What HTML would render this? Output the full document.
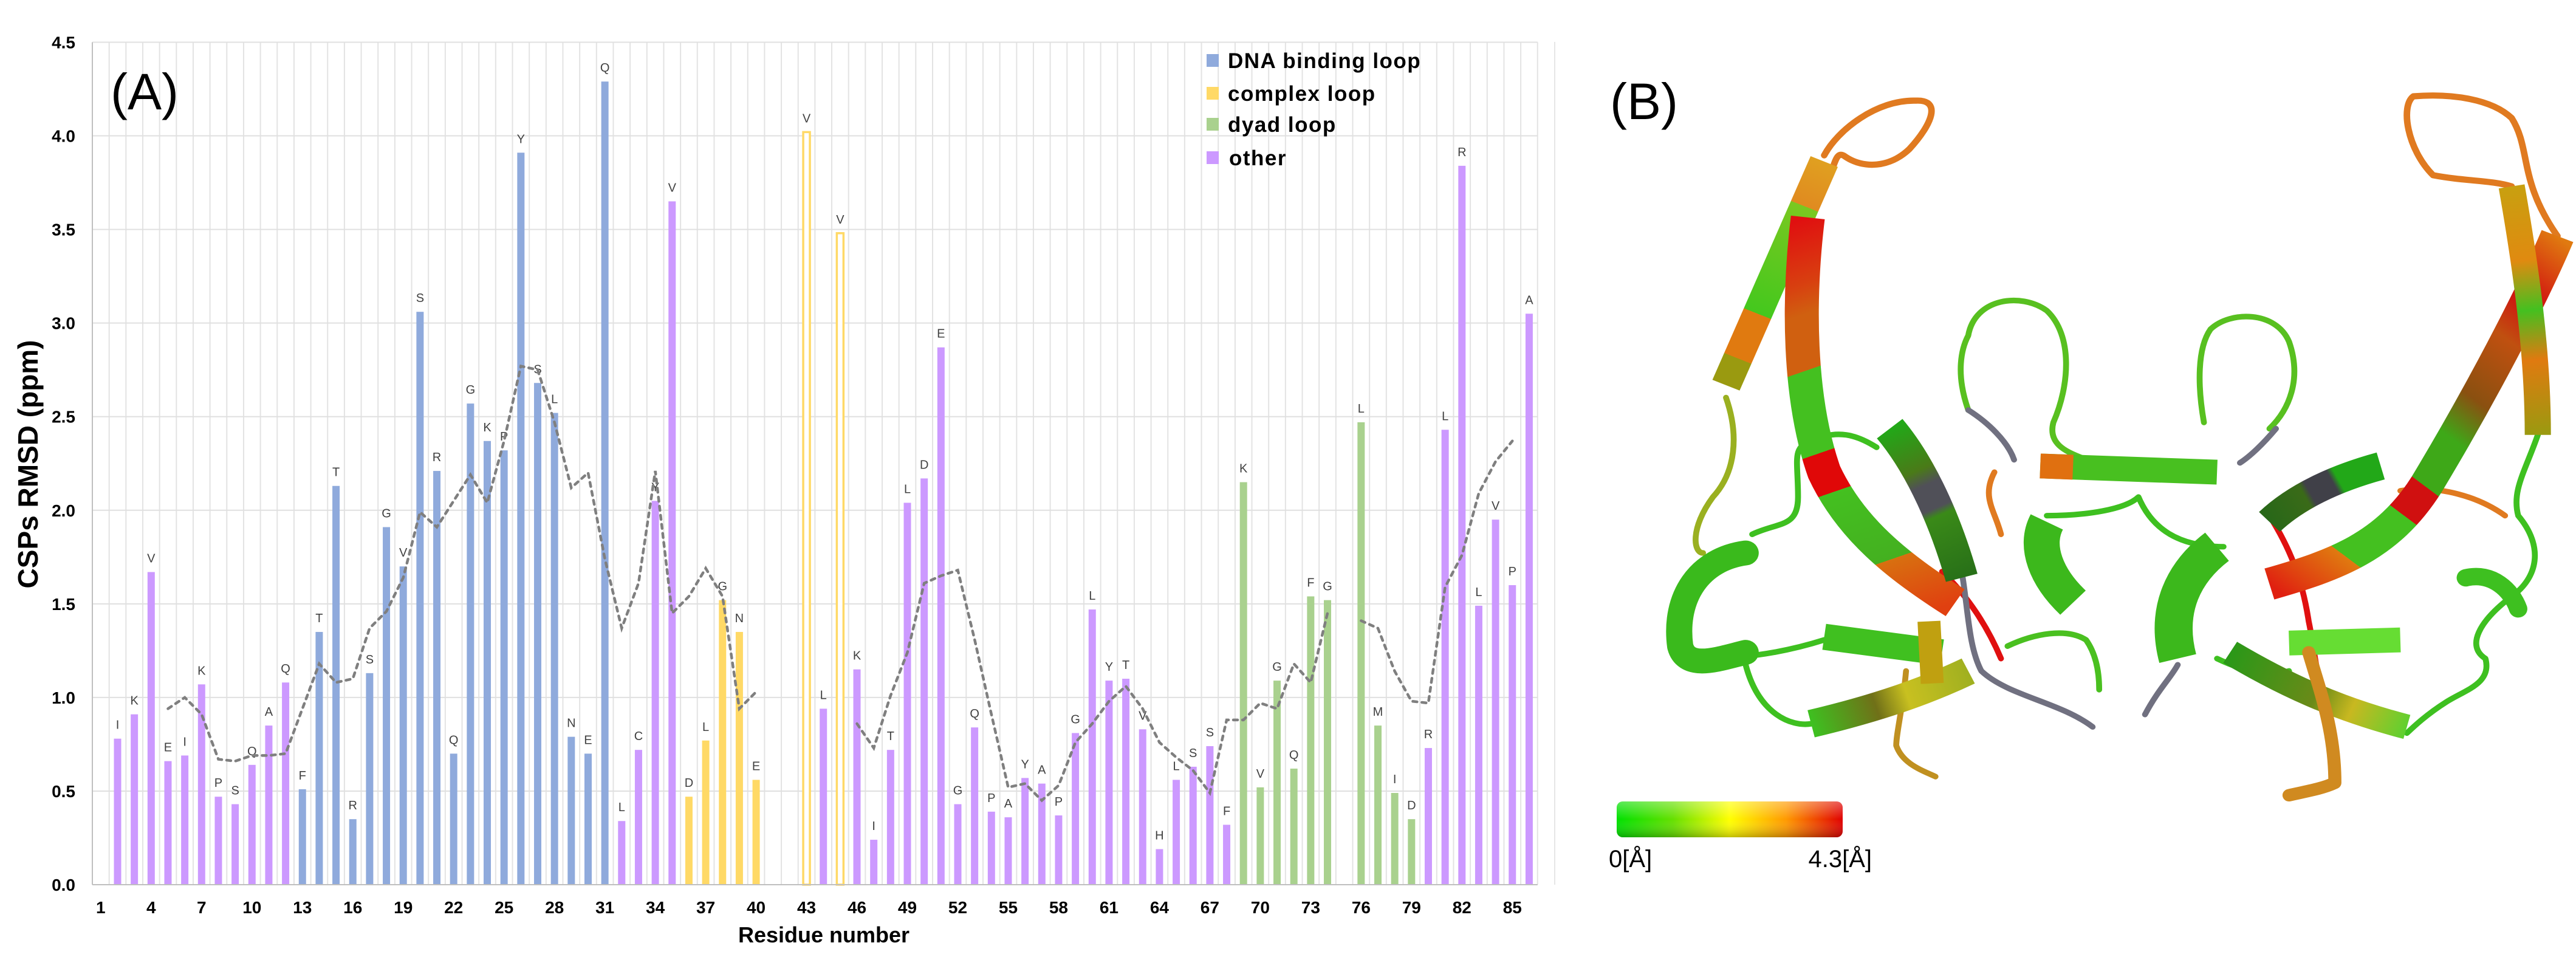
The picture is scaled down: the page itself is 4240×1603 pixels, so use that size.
<!DOCTYPE html>
<html><head><meta charset="utf-8"><style>
html,body{margin:0;padding:0;background:#fff}
svg{display:block}
text{font-family:"Liberation Sans",Arial,sans-serif}
</style></head><body>
<svg id="fig" width="4240" height="1603" viewBox="0 0 4240 1603" xmlns="http://www.w3.org/2000/svg">
<rect width="4240" height="1603" fill="#fff"/>
<g id="chartA">
  <g id="grid"></g>
  <g id="bars"></g>
  <g id="barlabels"></g>
  <g id="avgline"></g>
  <g id="axes"></g>
  <text x="182" y="180" font-size="84" fill="#000">(A)</text>
  <text transform="translate(62,764) rotate(-90)" text-anchor="middle" font-size="46" font-weight="bold" fill="#000">CSPs RMSD (ppm)</text>
  <text x="1356" y="1551" text-anchor="middle" font-size="36" font-weight="bold" fill="#000">Residue number</text>
  <g>
    <g><rect x="1986" y="89" width="20" height="21" fill="#8faadc"/><text x="2021" y="112" font-size="35" font-weight="bold" letter-spacing="1.5">DNA binding loop</text></g>
    <g><rect x="1986" y="143" width="20" height="21" fill="#ffd966"/><text x="2021" y="166" font-size="35" font-weight="bold" letter-spacing="1.5">complex loop</text></g>
    <g><rect x="1986" y="194" width="20" height="21" fill="#a9d18e"/><text x="2021" y="217" font-size="35" font-weight="bold" letter-spacing="1.5">dyad loop</text></g>
    <g><rect x="1986" y="249" width="20" height="21" fill="#cc99ff"/><text x="2023" y="272" font-size="35" font-weight="bold" letter-spacing="1.5">other</text></g>
  </g>
</g>

<g id="panelB">
  <line x1="2559" y1="69" x2="2559" y2="1456" stroke="#e6e6e6" stroke-width="2"/>
  <text x="2650" y="196" font-size="84" fill="#000">(B)</text>
  <defs>
    <linearGradient id="cbar" x1="0" y1="0" x2="1" y2="0">
      <stop offset="0" stop-color="#00e000"/><stop offset="0.25" stop-color="#66e000"/><stop offset="0.5" stop-color="#ffff00"/><stop offset="0.75" stop-color="#ff9900"/><stop offset="1" stop-color="#e00000"/>
    </linearGradient>
    <linearGradient id="cbarShade" x1="0" y1="0" x2="0" y2="1">
      <stop offset="0" stop-color="#fff" stop-opacity="0.35"/><stop offset="0.5" stop-color="#fff" stop-opacity="0"/><stop offset="1" stop-color="#000" stop-opacity="0.25"/>
    </linearGradient>
    <linearGradient id="gS1" gradientUnits="userSpaceOnUse" x1="270" y1="620" x2="420" y2="260">
      <stop offset="0" stop-color="#9a9a10"/><stop offset="0.12" stop-color="#9a9a10"/><stop offset="0.12" stop-color="#e07a10"/><stop offset="0.32" stop-color="#e07a10"/><stop offset="0.32" stop-color="#44c81e"/><stop offset="0.8" stop-color="#7ac820"/><stop offset="0.8" stop-color="#e08a20"/><stop offset="1" stop-color="#e0a020"/>
    </linearGradient>
    <linearGradient id="gS2" gradientUnits="userSpaceOnUse" x1="395" y1="350" x2="620" y2="970">
      <stop offset="0" stop-color="#e01010"/><stop offset="0.15" stop-color="#d84010"/><stop offset="0.22" stop-color="#d06010"/><stop offset="0.35" stop-color="#d06010"/><stop offset="0.35" stop-color="#44c020"/><stop offset="0.55" stop-color="#44c020"/><stop offset="0.55" stop-color="#e00808"/><stop offset="0.65" stop-color="#e00808"/><stop offset="0.65" stop-color="#44c020"/><stop offset="0.85" stop-color="#44b020"/><stop offset="0.85" stop-color="#d87010"/><stop offset="1" stop-color="#e04010"/>
    </linearGradient>
    <linearGradient id="gS3" gradientUnits="userSpaceOnUse" x1="520" y1="690" x2="630" y2="930">
      <stop offset="0" stop-color="#22a818"/><stop offset="0.3" stop-color="#4a7a18"/><stop offset="0.4" stop-color="#505058"/><stop offset="0.55" stop-color="#505058"/><stop offset="0.6" stop-color="#3a8a18"/><stop offset="1" stop-color="#287018"/>
    </linearGradient>
    <linearGradient id="gR1" gradientUnits="userSpaceOnUse" x1="1540" y1="380" x2="1100" y2="940">
      <stop offset="0" stop-color="#e07a10"/><stop offset="0.15" stop-color="#d01010"/><stop offset="0.25" stop-color="#c05010"/><stop offset="0.4" stop-color="#8a5010"/><stop offset="0.5" stop-color="#3ea818"/><stop offset="0.62" stop-color="#3ea818"/><stop offset="0.62" stop-color="#d01010"/><stop offset="0.7" stop-color="#d01010"/><stop offset="0.7" stop-color="#44c020"/><stop offset="0.85" stop-color="#44c020"/><stop offset="0.85" stop-color="#e07a10"/><stop offset="0.95" stop-color="#e04010"/><stop offset="1" stop-color="#e02010"/>
    </linearGradient>
    <linearGradient id="gR2" gradientUnits="userSpaceOnUse" x1="1470" y1="300" x2="1510" y2="700">
      <stop offset="0" stop-color="#c8a010"/><stop offset="0.3" stop-color="#e08a10"/><stop offset="0.5" stop-color="#44c020"/><stop offset="0.7" stop-color="#e07a10"/><stop offset="1" stop-color="#9a9a10"/>
    </linearGradient>
    <linearGradient id="gR3" gradientUnits="userSpaceOnUse" x1="1100" y1="840" x2="1270" y2="750">
      <stop offset="0" stop-color="#286818"/><stop offset="0.35" stop-color="#3a6a18"/><stop offset="0.4" stop-color="#404048"/><stop offset="0.6" stop-color="#404048"/><stop offset="0.65" stop-color="#22a818"/><stop offset="1" stop-color="#22a818"/>
    </linearGradient>
    <linearGradient id="gB1" gradientUnits="userSpaceOnUse" x1="400" y1="1160" x2="640" y2="1080">
      <stop offset="0" stop-color="#3ec020"/><stop offset="0.4" stop-color="#707018"/><stop offset="0.6" stop-color="#c8c020"/><stop offset="1" stop-color="#a0b020"/>
    </linearGradient>
    <linearGradient id="gB2" gradientUnits="userSpaceOnUse" x1="1040" y1="1050" x2="1310" y2="1170">
      <stop offset="0" stop-color="#2a9818"/><stop offset="0.5" stop-color="#6a8a18"/><stop offset="0.7" stop-color="#c8b820"/><stop offset="1" stop-color="#60d030"/>
    </linearGradient>
  </defs>
  <g transform="translate(2550,0) scale(1.0776,1.0225)" fill="none" stroke-linecap="round" stroke-linejoin="round">
    <path d="M270,640 C290,700 285,760 250,800 C215,850 220,890 235,890" stroke="#9ab020" stroke-width="9"/>
    <path d="M310,860 C350,840 380,850 380,800 C380,740 370,720 400,710 C440,690 470,700 500,720" stroke="#3ec020" stroke-width="9"/>
    <path d="M235,1060 C300,1060 360,1050 420,1030" stroke="#3ec020" stroke-width="9"/>
    <path d="M300,1070 C320,1150 370,1170 400,1165" stroke="#3ec020" stroke-width="9"/>
    <path d="M420,250 C440,210 500,160 560,162 C600,160 585,200 550,240 C520,270 480,272 452,252 C430,235 440,300 400,310" stroke="#e07a20" stroke-width="10"/>
    <path d="M640,660 C620,600 630,560 640,540 C650,480 720,470 760,500 C800,540 795,620 770,680 C760,720 800,730 820,740" stroke="#58c020" stroke-width="9"/>
    <path d="M640,660 C670,680 700,710 710,740" stroke="#707080" stroke-width="9"/>
    <path d="M1000,680 C990,620 990,560 1010,530 C1040,500 1110,500 1130,550 C1150,610 1130,660 1100,690" stroke="#58c020" stroke-width="9"/>
    <path d="M1110,690 C1090,715 1070,735 1055,745" stroke="#707080" stroke-width="9"/>
    <path d="M680,760 C660,800 680,820 690,860" stroke="#e07a20" stroke-width="9"/>
    <path d="M600,920 C640,960 670,1010 690,1060" stroke="#e01010" stroke-width="9"/>
    <path d="M630,920 C640,980 640,1040 660,1080 C700,1120 780,1130 830,1170" stroke="#707080" stroke-width="9"/>
    <path d="M700,1040 C740,1020 790,1010 820,1030 C840,1060 840,1100 840,1110" stroke="#4ac020" stroke-width="9"/>
    <path d="M545,1080 C540,1140 530,1180 530,1200 C540,1230 570,1240 590,1250" stroke="#c09020" stroke-width="9"/>
    <path d="M760,830 C820,830 880,820 900,800 C920,850 960,880 1030,880" stroke="#3ec020" stroke-width="9"/>
    <path d="M910,1150 C930,1110 950,1090 960,1070" stroke="#707080" stroke-width="9"/>
    <path d="M1470,300 C1440,290 1400,292 1350,282 C1310,240 1300,170 1320,155 C1380,150 1440,160 1470,190 C1500,240 1480,290 1540,380" stroke="#e07a20" stroke-width="10"/>
    <path d="M1510,700 C1490,760 1470,790 1480,830 C1520,880 1510,930 1470,960 C1420,1000 1400,1040 1430,1060 C1440,1100 1400,1110 1370,1130 C1340,1150 1320,1170 1310,1180" stroke="#3ec020" stroke-width="9"/>
    <path d="M1300,790 C1360,780 1420,800 1460,830" stroke="#e07a20" stroke-width="9"/>
    <path d="M1100,830 C1130,880 1150,930 1160,1000 C1170,1050 1170,1080 1180,1100" stroke="#e01010" stroke-width="9"/>
    <path d="M1020,1060 C1060,1080 1100,1090 1130,1080" stroke="#3ec020" stroke-width="9"/>
    <path d="M270,620 L420,260" stroke="url(#gS1)" stroke-width="45" stroke-linecap="butt"/>
    <path d="M395,350 C380,480 380,640 420,760 C460,850 530,910 620,970" stroke="url(#gS2)" stroke-width="52" stroke-linecap="butt"/>
    <path d="M520,690 C560,740 600,820 630,930" stroke="url(#gS3)" stroke-width="50" stroke-linecap="butt"/>
    <path d="M300,890 C230,900 190,960 200,1040 C210,1080 260,1060 300,1050" stroke="#3aba1c" stroke-width="40"/>
    <path d="M420,1025 L600,1050" stroke="#40c020" stroke-width="42" stroke-linecap="butt"/>
    <path d="M400,1165 C480,1145 560,1120 640,1080" stroke="url(#gB1)" stroke-width="45" stroke-linecap="butt"/>
    <path d="M580,1000 L585,1100" stroke="#c0a010" stroke-width="35" stroke-linecap="butt"/>
    <path d="M760,840 C740,880 760,930 800,970" stroke="#3cb81c" stroke-width="55" stroke-linecap="butt"/>
    <path d="M750,750 L1020,760" stroke="#48c020" stroke-width="40" stroke-linecap="butt"/>
    <path d="M750,750 L800,752" stroke="#e07010" stroke-width="40" stroke-linecap="butt"/>
    <path d="M1020,880 C970,920 940,980 960,1060" stroke="#3cb81c" stroke-width="58" stroke-linecap="butt"/>
    <path d="M1540,380 C1500,480 1420,640 1340,780 C1280,880 1200,910 1100,940" stroke="url(#gR1)" stroke-width="52" stroke-linecap="butt"/>
    <path d="M1470,300 C1490,420 1510,560 1510,700" stroke="url(#gR2)" stroke-width="40" stroke-linecap="butt"/>
    <path d="M1100,840 C1140,800 1200,770 1270,750" stroke="url(#gR3)" stroke-width="45" stroke-linecap="butt"/>
    <path d="M1130,1035 L1300,1030" stroke="#66dd33" stroke-width="40" stroke-linecap="butt"/>
    <path d="M1040,1050 C1120,1100 1200,1140 1310,1170" stroke="url(#gB2)" stroke-width="40" stroke-linecap="butt"/>
    <path d="M1160,1050 C1180,1120 1200,1180 1200,1260 C1180,1270 1150,1275 1130,1280" stroke="#d08a20" stroke-width="20"/>
    <path d="M1400,930 C1440,920 1470,950 1480,980" stroke="#3ec020" stroke-width="28"/>
  </g>
  <g>
    <text x="2866" y="1366" text-anchor="middle" font-size="42" fill="#000">RMSD</text>
    <rect x="2661" y="1319" width="372" height="59" rx="10" fill="url(#cbar)"/>
    <rect x="2661" y="1319" width="372" height="59" rx="10" fill="url(#cbarShade)"/>
    <text x="2648" y="1427" font-size="40" font-family="Liberation Serif, serif" fill="#000">0[Å]</text>
    <text x="3081" y="1427" text-anchor="end" font-size="40" font-family="Liberation Serif, serif" fill="#000">4.3[Å]</text>
  </g>
</g>
</svg>
<script>
const residues = Array.from({length:86},(_,i)=>i+1);
const rmsd = [null,0.78,0.91,1.67,0.66,0.69,1.07,0.47,0.43,0.64,0.85,1.08,0.51,1.35,2.13,0.35,1.13,1.91,1.70,3.06,2.21,0.70,2.57,2.37,2.32,3.91,2.68,2.52,0.79,0.70,4.29,0.34,0.72,2.05,3.65,0.47,0.77,1.52,1.35,0.56,null,null,4.02,0.94,3.48,1.15,0.24,0.72,2.04,2.17,2.87,0.43,0.84,0.39,0.36,0.57,0.54,0.37,0.81,1.47,1.09,1.10,0.83,0.19,0.56,0.63,0.74,0.32,2.15,0.52,1.09,0.62,1.54,1.52,null,2.47,0.85,0.49,0.35,0.73,2.43,3.84,1.49,1.95,1.60,3.05];
const letters = ["","I","K","V","E","I","K","P","S","Q","A","Q","F","T","T","R","S","G","V","S","R","Q","G","K","P","Y","S","L","N","E","Q","L","C","Y","V","D","L","G","N","E","","","V","L","V","K","I","T","L","D","E","G","Q","P","A","Y","A","P","G","L","Y","T","V","H","L","S","S","F","K","V","G","Q","F","G","","L","M","I","D","R","L","R","L","V","P","A"];
const groups = "oooooooooooodddddddddddddddddddooooccccccccocoooooooooooooooooooooooyyyyyyyyyyyooooooo".split("");
const hollow = residues.map(r => r===43 || r===45);
const avg = [null,null,null,null,0.94,1.00,0.91,0.67,0.66,0.69,0.69,0.70,0.94,1.18,1.08,1.10,1.37,1.46,1.64,1.99,1.91,2.05,2.19,2.04,2.37,2.77,2.75,2.47,2.12,2.20,1.74,1.37,1.61,2.21,1.45,1.54,1.69,1.54,0.94,1.03,null,null,null,null,null,0.86,0.73,1.01,1.24,1.61,1.65,1.68,1.31,0.91,0.52,0.54,0.45,0.53,0.76,0.86,0.98,1.06,0.94,0.76,0.68,0.61,0.49,0.88,0.88,0.97,0.94,1.18,1.08,1.45,null,1.41,1.37,1.14,0.98,0.97,1.59,1.76,2.09,2.26,2.37,null];
const yTicks = [0,0.5,1,1.5,2,2.5,3,3.5,4,4.5];
const xTicks = [1,4,7,10,13,16,19,22,25,28,31,34,37,40,43,46,49,52,55,58,61,64,67,70,73,76,79,82,85];
const colors = {o:"#cc99ff", d:"#8faadc", c:"#ffd966", y:"#a9d18e"};

const plotL=152, band=27.66, y0=1456, yTop=69.5, yMax=4.5;
const xC = r => plotL + (r-0.5)*band;
const yS = v => y0 - (v/yMax)*(y0-yTop);
const NS="http://www.w3.org/2000/svg";
function mk(tag, attrs, parent){const e=document.createElementNS(NS,tag);for(const k in attrs)e.setAttribute(k,attrs[k]);parent.appendChild(e);return e;}

const grid=document.getElementById('grid');
for(let i=0;i<=residues.length;i++){
  const l=mk('line',{x1:plotL+i*band,x2:plotL+i*band,y1:yTop,y2:y0,stroke:"#e3e3e3","stroke-width":2},grid);
  
  
}
yTicks.forEach(t=>{
  const l=mk('line',{x1:plotL,x2:plotL+residues.length*band,y1:yS(t),y2:yS(t),stroke:"#e0e0e0","stroke-width":2},grid);
  
  
});

const bars=document.getElementById('bars'), bl=document.getElementById('barlabels');
const bw=12;
residues.forEach((r,i)=>{
  const v=rmsd[i]; if(v==null) return;
  const c=colors[groups[i]];
  let b;
  if(hollow[i]){
    b=mk('rect',{x:xC(r)-7+1.5,y:yS(v),width:11,height:y0-yS(v),fill:"#fff",stroke:c,"stroke-width":3.5},bars);
  } else {
    b=mk('rect',{x:xC(r)-bw/2,y:yS(v),width:bw,height:y0-yS(v),fill:c},bars);
  }
  
  
  const t=mk('text',{x:xC(r),y:yS(v)-16,"text-anchor":"middle","font-size":20,fill:"#404040"},bl);
  t.textContent=letters[i];
  
  
});

const al=document.getElementById('avgline');
let seg=[];
function flush(){ if(seg.length>1){const p=mk('polyline',{points:seg.join(' '),fill:"none",stroke:"#7f7f7f","stroke-width":4.5,"stroke-dasharray":"7,8","stroke-linecap":"round"},al);
  
  } seg=[]; }
residues.forEach((r,i)=>{ const v=avg[i]; if(v==null){flush();return;} seg.push(xC(r)+','+yS(v)); });
flush();

const ax=document.getElementById('axes');
const la=mk('line',{x1:plotL,x2:plotL,y1:yTop,y2:y0,stroke:"#bfbfbf","stroke-width":2},ax);


const lb=mk('line',{x1:plotL,x2:plotL+residues.length*band,y1:y0,y2:y0,stroke:"#bfbfbf","stroke-width":2},ax);


yTicks.forEach(t=>{
  const e=mk('text',{x:124,y:yS(t)+10,"text-anchor":"end","font-size":28,"font-weight":"bold",fill:"#000"},ax);
  e.textContent=t.toFixed(1);
  
  
});
xTicks.forEach(r=>{
  const e=mk('text',{x:xC(r),y:1503,"text-anchor":"middle","font-size":28,"font-weight":"bold",fill:"#000"},ax);
  e.textContent=r;
  
  
});
</script>
</body></html>
